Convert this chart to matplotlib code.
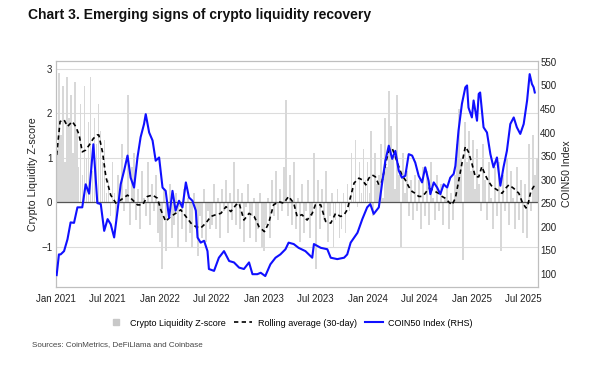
"""Chart 3 - crypto liquidity z-score vs COIN50 index."""

import matplotlib
matplotlib.use("Agg")
import matplotlib.pyplot as plt
import matplotlib.dates as mdates
from matplotlib.lines import Line2D
import pandas as pd

plt.rcParams["font.family"] = ["Liberation Sans", "DejaVu Sans"]

# --- weekly crypto liquidity z-score (from 2021-01-04) ---
zscore_start = "2021-01-04"
zscore = [
    # 2021
    1.2, 2.9, 1.5, 2.6, 0.9, 2.8, 1.9, 2.4, 1.1, 2.7, 1.6, 0.8, 2.2,
    0.6, 2.6, 1.0, 1.8, 2.8, 0.7, 1.9, 1.3, 2.2, 1.6, 0.9, 1.4, 0.2,
    0.5, -0.3, 0.9, 0.2, -0.4, 0.6, 0.1, 1.3, -0.2, 0.3, 2.4, -0.5, 0.8,
    1.1, -0.4, 0.3, -0.6, 0.7, 0.1, -0.3, 0.9, -0.5, 0.4, -0.2, 0.6, -0.7,
    # 2022
    -0.9, -1.5, 0.3, -1.1, -0.2, 0.4, -0.8, -0.5, 0.2, -1.0, -0.1, -0.6, 0.3,
    -0.9, 0.1, -0.7, -1.0, 0.2, -0.6, -1.2, -0.3, -0.8, 0.3, -0.9, -0.2, -0.6,
    -0.5, 0.4, -0.6, 0.1, -0.8, 0.3, -0.2, 0.5, -0.7, 0.2, -0.4, 0.9, -0.5,
    0.3, -0.6, 0.2, -0.9, -0.1, 0.4, -0.8, -0.3, 0.1, -0.9, -0.6, 0.2, -1.0,
    # 2023
    -1.1, -0.5, 0.1, -0.8, 0.5, -0.3, 0.7, -0.4, 0.3, -0.2, 0.8, 2.3, -0.3,
    0.6, -0.5, 0.9, -0.6, 0.1, -0.9, 0.4, -0.7, -0.2, 0.5, -0.8, -0.3, 1.1,
    -1.5, 0.5, -0.6, 0.3, -0.4, 0.7, -0.9, -0.3, 0.2, -1.0, -0.4, 0.3, -0.8,
    -0.6, 0.2, -0.7, 0.4, -0.2, 1.1, 0.3, 1.4, -0.1, 0.9, 0.2, 1.2, 0.5,
    # 2024
    0.9, 0.2, 1.6, -0.3, 1.1, 0.4, 0.6, 1.3, 0.1, 1.9, 0.8, 2.5, 1.7,
    1.0, 0.3, 2.4, 0.6, -1.0, 1.1, 0.2, 0.7, -0.3, 0.5, -0.4, 0.6, -0.2,
    0.5, -0.6, 0.8, -0.3, 0.7, -0.5, 0.9, 0.1, -0.4, 0.6, -0.2, 0.4, -0.5,
    0.1, 0.3, -0.6, 0.2, -0.4, 0.6, 1.3, 2.1, 1.0, -1.3, 1.8, 0.9, 1.6,
    # 2025
    0.7, 1.4, 0.3, 1.2, 0.4, -0.2, 1.3, 0.5, -0.4, 0.9, 0.1, -0.6, 0.8,
    -0.3, 0.9, -1.1, 0.6, -0.2, 1.0, -0.5, 0.7, 0.1, -0.6, 0.8, -0.4, 0.5,
    -0.7, 0.4, -0.8, 1.3, -0.2, 1.5, 0.6, 1.0,
]

# --- 30-day rolling average of the z-score ---
roll_dates = [
    "2021-01-04", "2021-01-16", "2021-01-30", "2021-02-11", "2021-02-28", "2021-03-12",
    "2021-03-24", "2021-04-04", "2021-04-16", "2021-04-28", "2021-05-13", "2021-05-27",
    "2021-06-01", "2021-06-14", "2021-06-26", "2021-07-13", "2021-07-31", "2021-08-17",
    "2021-09-10", "2021-09-28", "2021-10-15", "2021-11-02", "2021-11-19", "2021-12-07",
    "2021-12-24", "2022-01-05", "2022-01-22", "2022-02-09", "2022-02-26", "2022-03-16",
    "2022-04-03", "2022-04-21", "2022-05-08", "2022-05-25", "2022-06-12", "2022-06-30",
    "2022-07-17", "2022-08-04", "2022-08-22", "2022-09-08", "2022-09-26", "2022-10-07",
    "2022-10-24", "2022-11-11", "2022-11-29", "2022-12-16", "2023-01-04", "2023-01-19",
    "2023-02-05", "2023-02-23", "2023-03-13", "2023-03-30", "2023-04-17", "2023-04-29",
    "2023-05-16", "2023-06-03", "2023-06-21", "2023-07-02", "2023-07-21", "2023-08-07",
    "2023-08-25", "2023-09-11", "2023-09-29", "2023-10-11", "2023-10-22", "2023-11-03",
    "2023-11-15", "2023-12-02", "2023-12-14", "2023-12-26", "2024-01-06", "2024-01-18",
    "2024-01-29", "2024-02-10", "2024-02-21", "2024-03-04", "2024-03-16", "2024-03-28",
    "2024-04-08", "2024-04-20", "2024-05-01", "2024-05-13", "2024-05-25", "2024-06-06",
    "2024-06-17", "2024-06-29", "2024-07-11", "2024-07-22", "2024-08-03", "2024-08-15",
    "2024-08-26", "2024-09-07", "2024-09-19", "2024-09-30", "2024-10-12", "2024-10-24",
    "2024-11-05", "2024-11-16", "2024-11-28", "2024-12-10", "2024-12-21", "2025-01-02",
    "2025-01-14", "2025-01-26", "2025-02-06", "2025-02-18", "2025-03-02", "2025-03-14",
    "2025-03-31", "2025-04-18", "2025-04-30", "2025-05-12", "2025-05-29", "2025-06-16",
    "2025-06-28", "2025-07-11", "2025-07-18", "2025-07-28", "2025-08-07", "2025-08-19",
]
roll_avg = [
    1.06, 1.81, 1.85, 1.70, 1.81, 1.70,
    1.51, 1.13, 1.17, 1.28, 1.43, 1.51,
    1.51, 1.13, 0.57, 0.16, -0.02, 0.05,
    0.16, 0.05, -0.06, -0.06, 0.13, 0.16,
    0.09, -0.17, -0.43, -0.32, -0.25, -0.17,
    -0.32, -0.47, -0.55, -0.58, -0.47, -0.32,
    -0.28, -0.25, -0.10, -0.21, -0.06, -0.02,
    -0.40, -0.25, -0.32, -0.55, -0.66, -0.47,
    -0.06, 0.01, -0.02, 0.13, -0.02, -0.32,
    -0.28, -0.40, -0.25, -0.06, -0.06, -0.43,
    -0.47, -0.25, -0.32, -0.28, -0.17, 0.13,
    0.43, 0.54, 0.50, 0.39, 0.54, 0.61,
    0.57, 0.39, 0.46, 0.84, 1.17, 1.21,
    1.02, 0.80, 0.61, 0.50, 0.35, 0.24,
    0.20, 0.13, 0.13, 0.20, 0.31, 0.28,
    0.24, 0.20, 0.13, 0.09, 0.01, -0.06,
    0.09, 0.46, 0.87, 1.25, 1.13, 0.87,
    0.57, 0.57, 0.80, 0.61, 0.46, 0.35,
    0.28, 0.20, 0.31, 0.39, 0.31, 0.20,
    0.00, -0.13, -0.05, 0.24, 0.35, 0.39,
]

# --- COIN50 index (right-hand scale) ---
coin_dates = [
    "2021-01-04", "2021-01-12", "2021-01-18", "2021-01-30", "2021-02-11", "2021-02-22",
    "2021-03-06", "2021-03-18", "2021-04-04", "2021-04-16", "2021-04-28", "2021-05-13",
    "2021-05-27", "2021-06-08", "2021-06-20", "2021-07-02", "2021-07-13", "2021-07-25",
    "2021-08-06", "2021-08-17", "2021-08-29", "2021-09-10", "2021-09-21", "2021-10-03",
    "2021-10-15", "2021-10-26", "2021-11-07", "2021-11-13", "2021-11-25", "2021-12-07",
    "2021-12-18", "2021-12-30", "2022-01-11", "2022-01-22", "2022-02-03", "2022-02-15",
    "2022-02-26", "2022-03-10", "2022-03-22", "2022-04-03", "2022-04-14", "2022-04-26",
    "2022-05-08", "2022-05-14", "2022-05-25", "2022-06-06", "2022-06-18", "2022-06-23",
    "2022-07-11", "2022-07-28", "2022-08-15", "2022-09-02", "2022-09-19", "2022-10-07",
    "2022-10-24", "2022-11-11", "2022-11-23", "2022-12-10", "2022-12-22", "2023-01-07",
    "2023-01-25", "2023-02-12", "2023-03-01", "2023-03-19", "2023-03-30", "2023-04-17",
    "2023-05-04", "2023-05-28", "2023-06-21", "2023-06-27", "2023-07-21", "2023-08-13",
    "2023-08-25", "2023-09-17", "2023-10-11", "2023-10-22", "2023-11-03", "2023-11-27",
    "2023-12-14", "2023-12-31", "2024-01-11", "2024-01-23", "2024-02-10", "2024-02-21",
    "2024-03-04", "2024-03-16", "2024-03-28", "2024-04-08", "2024-04-20", "2024-05-01",
    "2024-05-13", "2024-05-25", "2024-06-06", "2024-06-17", "2024-06-29", "2024-07-11",
    "2024-07-22", "2024-08-03", "2024-08-09", "2024-08-21", "2024-09-02", "2024-09-13",
    "2024-09-25", "2024-10-07", "2024-10-18", "2024-10-30", "2024-11-05", "2024-11-16",
    "2024-11-28", "2024-12-10", "2024-12-16", "2024-12-21", "2025-01-02", "2025-01-08",
    "2025-01-20", "2025-01-26", "2025-01-31", "2025-02-12", "2025-02-24", "2025-03-08",
    "2025-03-19", "2025-03-31", "2025-04-12", "2025-04-23", "2025-05-05", "2025-05-17",
    "2025-05-29", "2025-06-09", "2025-06-21", "2025-07-03", "2025-07-15", "2025-07-24",
    "2025-08-01", "2025-08-07", "2025-08-11",
]
coin50 = [
    97, 141, 141, 148, 173, 209,
    208, 241, 241, 290, 270, 375,
    250, 248, 191, 216, 205, 177,
    234, 290, 319, 351, 304, 283,
    347, 390, 418, 439, 400, 383,
    340, 347, 283, 276, 219, 276,
    234, 255, 241, 294, 262, 255,
    234, 177, 166, 170, 148, 110,
    106, 134, 148, 127, 124, 113,
    110, 124, 99, 99, 102, 95,
    120, 134, 141, 152, 166, 163,
    155, 148, 134, 163, 155, 152,
    134, 131, 134, 141, 166, 187,
    216, 241, 248, 227, 241, 290,
    340, 372, 344, 361, 319, 304,
    308, 354, 351, 336, 308, 294,
    326, 297, 269, 294, 283, 269,
    290, 283, 304, 312, 329, 404,
    461, 496, 500, 453, 432, 468,
    425, 482, 485, 411, 400, 354,
    326, 347, 287, 326, 361, 418,
    432, 411, 397, 418, 468, 524,
    503, 496, 485,
]

z_dates = pd.date_range(zscore_start, periods=len(zscore), freq="7D")
roll_dates = pd.to_datetime(roll_dates)
coin_dates = pd.to_datetime(coin_dates)

TXT = "#222222"
DASH = (0, (2.6, 2.0))

fig = plt.figure(figsize=(6.0, 3.65), dpi=100)
ax = fig.add_axes([0.093, 0.214, 0.804, 0.619])

ax.bar(z_dates, zscore, width=6.5, color="#d8d8d8", linewidth=0, zorder=1)
ax.axhline(0, color="#555555", lw=0.9, zorder=2)
ax.plot(roll_dates, roll_avg, color="black", lw=1.2, ls=DASH, zorder=3)

ax.set_ylim(-1.9, 3.17)
ax.set_yticks([-1, 0, 1, 2, 3])
ax.set_xlim(pd.Timestamp("2021-01-01"), pd.Timestamp("2025-08-23"))
ax.grid(axis="y", color="#dcdcdc", lw=0.8, zorder=0)
ax.set_axisbelow(True)
ax.xaxis.set_major_locator(mdates.MonthLocator(bymonth=[1, 7]))
ax.xaxis.set_major_formatter(mdates.DateFormatter("%b %Y"))
ax.tick_params(axis="x", length=0, labelsize=7, colors=TXT, pad=5)
ax.tick_params(axis="y", length=0, labelsize=7, colors=TXT, pad=2.5)
ax.set_ylabel("Crypto Liquidity Z-score", fontsize=7.7, color=TXT, labelpad=2)
for s in ax.spines.values():
    s.set_color("#bfbfbf")
    s.set_linewidth(0.8)

ax2 = ax.twinx()
ax2.plot(coin_dates, coin50, color="#1010ff", lw=1.5, zorder=4)
ax2.set_ylim(72, 552)
ax2.set_yticks(range(100, 551, 50))
ax2.tick_params(length=0, labelsize=7, colors=TXT, pad=1.5)
ax2.set_ylabel("COIN50 Index", fontsize=7.6, color=TXT, labelpad=4)
for s in ax2.spines.values():
    s.set_color("#bfbfbf")
    s.set_linewidth(0.8)

fig.text(0.047, 0.958, "Chart 3. Emerging signs of crypto liquidity recovery",
         fontsize=10, fontweight="bold", va="center", color="#111111")

handles = [
    Line2D([], [], marker="s", ls="none", color="#c8c8c8", markersize=5),
    Line2D([], [], color="black", lw=1.2, ls=DASH),
    Line2D([], [], color="#1010ff", lw=1.5),
]
labels = ["Crypto Liquidity Z-score", "Rolling average (30-day)", "COIN50 Index (RHS)"]
fig.legend(handles, labels, loc="center", bbox_to_anchor=(0.483, 0.115), ncol=3,
           frameon=False, fontsize=6.5, handlelength=2.0, columnspacing=0.9,
           handletextpad=0.6)

fig.text(0.053, 0.055, "Sources: CoinMetrics, DeFiLlama and Coinbase",
         fontsize=5.8, color="#444444", va="center")

fig.savefig("out.png", dpi=100)
